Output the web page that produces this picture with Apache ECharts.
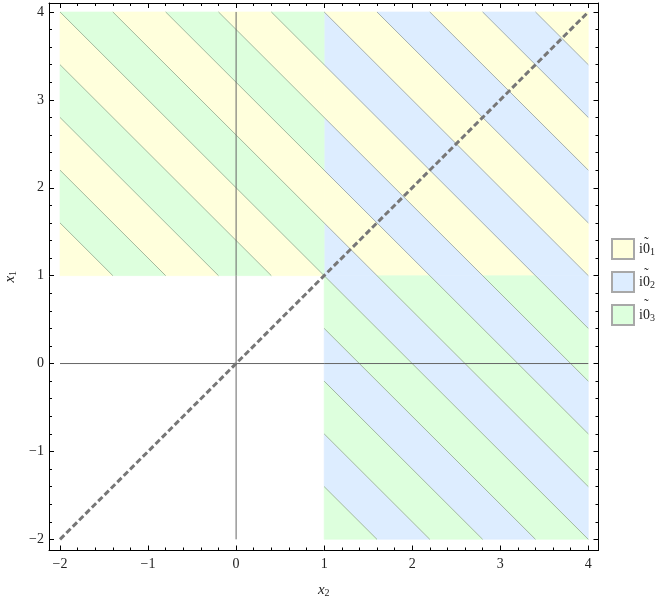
<!DOCTYPE html>
<html>
<head>
<meta charset="utf-8">
<script src="https://cdn.jsdelivr.net/npm/echarts@6/dist/echarts.min.js"></script>
<style>
  html, body { margin: 0; padding: 0; background: #fff; }
  #chart { width: 664px; height: 602px; }
</style>
</head>
<body>
<div id="chart"></div>
<script>
// stripes run along x2 + x1 = c; band edges and contour levels in c
const bandEdges = [-1.0, -0.4, 0.2, 0.8, 1.4, 2.0, 2.6, 3.2, 3.8, 4.4, 5.0, 5.6, 6.2, 6.8, 7.4, 8.0];
const contourLevels = [-0.4, 0.2, 0.8, 1.4, 2.0, 2.6, 3.2, 3.8, 4.4, 5.0, 5.6, 6.2, 6.8, 7.4];

// the three filled rectangles (x2 range, x1 range) and which class the even / odd bands get
const regionX2 = [[-2, 1], [1, 4], [1, 4]];
const regionX1 = [[1, 4], [1, 4], [-2, 1]];
const regionClasses = [[0, 2], [0, 1], [2, 1]];

const classNames = ['i0_1', 'i0_2', 'i0_3'];
const diagonal = [[-2, -2], [4, 4]];
const zeroVertical = [[0, -2], [0, 4]];
const zeroHorizontal = [[-2, 0], [4, 0]];

const tickLabels = [-2, -1, 0, 1, 2, 3, 4];
const minorTicks = [-2, -1.8, -1.6, -1.4, -1.2, -1, -0.8, -0.6, -0.4, -0.2, 0, 0.2, 0.4, 0.6, 0.8, 1,
  1.2, 1.4, 1.6, 1.8, 2, 2.2, 2.4, 2.6, 2.8, 3, 3.2, 3.4, 3.6, 3.8, 4];

const classColors = ['#ffffdc', '#ddedff', '#ddffdd'];
const X_MIN = -2.125, X_MAX = 4.116, Y_MIN = -2.127, Y_MAX = 4.102;

const chart = echarts.init(document.getElementById('chart'));

// keep the part of poly where sign * (x + y - c) >= 0
function clipHalf(poly, sign, c) {
  const out = [];
  for (let i = 0; i < poly.length; i++) {
    const a = poly[i], b = poly[(i + 1) % poly.length];
    const fa = sign * (a[0] + a[1] - c), fb = sign * (b[0] + b[1] - c);
    if (fa >= 0) out.push(a);
    if ((fa >= 0) !== (fb >= 0)) {
      const t = fa / (fa - fb);
      out.push([a[0] + t * (b[0] - a[0]), a[1] + t * (b[1] - a[1])]);
    }
  }
  return out;
}

function bandItem(params, api) {
  const x0 = api.value(0), x1 = api.value(1), y0 = api.value(2), y1 = api.value(3);
  let poly = [[x0, y0], [x1, y0], [x1, y1], [x0, y1]];
  poly = clipHalf(poly, 1, api.value(4));
  poly = clipHalf(poly, -1, api.value(5));
  if (poly.length < 3) return null;
  const color = api.visual('color');
  return {
    type: 'polygon',
    shape: { points: poly.map((p) => api.coord(p)) },
    style: { fill: color, stroke: color, lineWidth: 0.6 },
  };
}

function contourItem(params, api) {
  const x0 = api.value(0), x1 = api.value(1), y0 = api.value(2), y1 = api.value(3), c = api.value(4);
  const ya = Math.max(y0, c - x1), yb = Math.min(y1, c - x0);
  if (yb - ya < 1e-9) return null;
  const p = api.coord([c - ya, ya]), q = api.coord([c - yb, yb]);
  return {
    type: 'line',
    shape: { x1: p[0], y1: p[1], x2: q[0], y2: q[1] },
    style: { stroke: 'rgba(60, 72, 50, 0.38)', lineWidth: 1 },
  };
}

const bandData = classNames.map(() => []);
regionX2.forEach((xr, r) => {
  const yr = regionX1[r];
  for (let i = 0; i < bandEdges.length - 1; i++) {
    const cls = regionClasses[r][i % 2];
    bandData[cls].push([xr[0], xr[1], yr[0], yr[1], bandEdges[i], bandEdges[i + 1]]);
  }
});
const contourData = [];
regionX2.forEach((xr, r) => {
  const yr = regionX1[r];
  contourLevels.forEach((c) => contourData.push([xr[0], xr[1], yr[0], yr[1], c]));
});

const fmt = (v) => (v < 0 ? '\u2212' + (-v) : String(v));
const serif = 'Liberation Serif';
const subRich = {
  i: { fontFamily: serif, fontStyle: 'italic', fontSize: 15, color: '#222', lineHeight: 16 },
  s: { fontFamily: serif, fontSize: 10, color: '#222', lineHeight: 4, verticalAlign: 'bottom' },
};

function xAxisDef(position, ticks, len, showLine, showLabel, name) {
  return {
    type: 'value', position, min: X_MIN, max: X_MAX,
    axisLine: { show: showLine, onZero: false, lineStyle: { color: '#000', width: 1 } },
    axisTick: { show: true, inside: true, length: len, customValues: ticks, lineStyle: { color: '#000' } },
    axisLabel: { show: showLabel, customValues: tickLabels, formatter: fmt, margin: 7,
      fontFamily: serif, fontSize: 14, color: '#222' },
    splitLine: { show: false },
    name: name || '', nameLocation: 'middle', nameGap: 32, nameTextStyle: { rich: subRich },
  };
}
function yAxisDef(position, ticks, len, showLine, showLabel, name) {
  return {
    type: 'value', position, min: Y_MIN, max: Y_MAX,
    axisLine: { show: showLine, onZero: false, lineStyle: { color: '#000', width: 1 } },
    axisTick: { show: true, inside: true, length: len, customValues: ticks, lineStyle: { color: '#000' } },
    axisLabel: { show: showLabel, customValues: tickLabels, formatter: fmt, margin: 5,
      fontFamily: serif, fontSize: 14, color: '#222' },
    splitLine: { show: false },
    name: name || '', nameLocation: 'middle', nameGap: 25, nameTextStyle: { rich: subRich },
  };
}

const series = classNames.map((name, k) => ({
  name,
  type: 'custom',
  renderItem: bandItem,
  itemStyle: { color: classColors[k], borderColor: '#a8a8a8', borderWidth: 1 },
  encode: { x: [0, 1], y: [2, 3] },
  data: bandData[k],
  silent: true,
  z: 1,
}));
series.push({
  type: 'custom', renderItem: contourItem, encode: { x: [0, 1], y: [2, 3] },
  data: contourData, silent: true, z: 2,
});
series.push({
  type: 'line', data: zeroVertical, symbol: 'none', silent: true, z: 3,
  lineStyle: { color: '#666', width: 1 },
});
series.push({
  type: 'line', data: zeroHorizontal, symbol: 'none', silent: true, z: 3,
  lineStyle: { color: '#666', width: 1 },
});
series.push({
  type: 'line', data: diagonal, symbol: 'none', silent: true, z: 4,
  lineStyle: { color: '#777', width: 3, type: [6, 3] },
});

// tilde over the 0 of each legend label
const legendTop = 233, legendStep = 31;
const tildes = classNames.map((n, k) => ({
  type: 'text',
  left: 644,
  top: legendTop + k * legendStep + 3,
  silent: true,
  style: { text: '\u02dc', font: '14px "Liberation Serif"', fill: '#222' },
}));

chart.setOption({
  animation: false,
  backgroundColor: '#fff',
  grid: { left: 49, top: 3, width: 549.5, height: 547.5, containLabel: false, outerBoundsMode: 'none' },
  xAxis: [
    xAxisDef('bottom', tickLabels, 5, true, true, '{i|x}{s|2}'),
    xAxisDef('bottom', minorTicks, 3, false, false),
    xAxisDef('top', tickLabels, 5, true, false),
    xAxisDef('top', minorTicks, 3, false, false),
  ],
  yAxis: [
    yAxisDef('left', tickLabels, 5, true, true, '{i|x}{s|1}'),
    yAxisDef('left', minorTicks, 3, false, false),
    yAxisDef('right', tickLabels, 5, true, false),
    yAxisDef('right', minorTicks, 3, false, false),
  ],
  legend: {
    data: classNames,
    orient: 'vertical',
    left: 606,
    top: legendTop,
    itemWidth: 22,
    itemHeight: 20,
    itemGap: legendStep - 20,
    icon: 'rect',
    selectedMode: false,
    formatter: (name) => '{b|i0}{s|' + name.slice(-1) + '}',
    textStyle: {
      rich: {
        b: { fontFamily: serif, fontSize: 14, color: '#222', lineHeight: 16, padding: [0, 0, 0, 0] },
        s: { fontFamily: serif, fontSize: 10, color: '#222', lineHeight: 4, verticalAlign: 'bottom' },
      },
    },
  },
  graphic: tildes,
  series,
});
</script>
</body>
</html>
